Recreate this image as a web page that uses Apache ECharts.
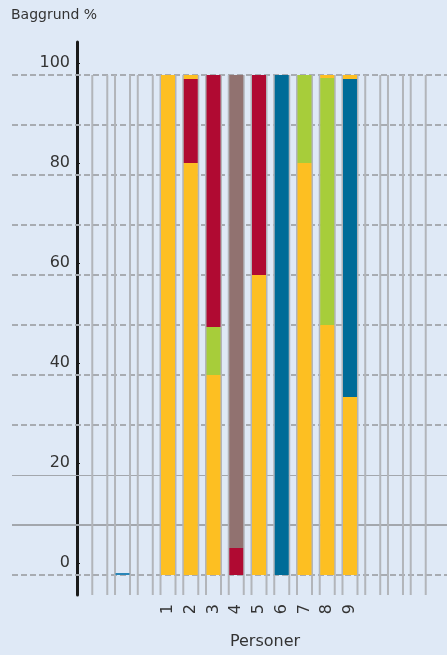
<!DOCTYPE html>
<html>
<head>
<meta charset="utf-8">
<script src="https://cdn.jsdelivr.net/npm/echarts@6/dist/echarts.min.js"></script>
<style>
  html, body { margin: 0; padding: 0; background: #dfe9f6; }
  #chart { width: 447px; height: 655px; }
</style>
</head>
<body>
<div id="chart"></div>
<script>
// 15 pladser på x-aksen: 3 tomme, personer 1..9, 3 tomme
const categories = ['', '', '', '1', '2', '3', '4', '5', '6', '7', '8', '9', '', '', ''];
const firstPerson = 3;

// hver søjle stables nedefra og op
const layerBottom = [100, 82.4, 40, 5.4, 60, 100, 82.4, 50, 35.6];
const layerMiddle = [0, 16.8, 9.6, 94.6, 40, 0, 17.6, 49.4, 63.6];
const layerTop = [0, 0.8, 50.4, 0, 0, 0, 0, 0.6, 0.8];
const colorBottom = ['gul', 'gul', 'gul', 'rod', 'gul', 'blaa', 'gul', 'gul', 'gul'];
const colorMiddle = ['gul', 'rod', 'gron', 'brun', 'rod', 'blaa', 'gron', 'gron', 'blaa'];
const colorTop = ['gul', 'gul', 'rod', 'brun', 'rod', 'blaa', 'gron', 'gul', 'gul'];

// den lille blå streg i en tom plads
const straySlot = 1;
const strayValue = 0.4;

const yTicks = [0, 20, 40, 60, 80, 100];
const gridValues = [0, 10, 20, 30, 40, 50, 60, 70, 80, 90, 100];

const palette = {
    gul: '#fdbf22',
    rod: '#b00a32',
    gron: '#a7cd3a',
    brun: '#917270',
    blaa: '#006c98',
    streg: '#2a86b8'
};

const font = 'DejaVu Sans';

function layerData(values, colors, withStray) {
    return categories.map((c, idx) => {
        const i = idx - firstPerson;
        if (i >= 0 && i < values.length) {
            return { value: values[i], itemStyle: { color: palette[colors[i]] } };
        }
        if (withStray && idx === straySlot) {
            return { value: strayValue, itemStyle: { color: palette.streg } };
        }
        return 0;
    });
}

function gridLineStyle(v) {
    if (v === 20) return { type: 'solid', width: 1, color: '#a3a7ad' };
    if (v === 10) return { type: 'solid', width: 2, color: '#a3a7ad' };
    return { type: [6, 3], width: 2, color: '#a8acb2' };
}

const chart = echarts.init(document.getElementById('chart'));

const option = {
    backgroundColor: '#dfe9f6',
    animation: false,
    grid: [
        { left: 12, right: 0, top: 42, bottom: 60 },     // kun til stiplede linjer
        { left: 88.4, right: 17.4, top: 42, bottom: 60 } // søjlerne
    ],
    graphic: [
        {
            type: 'text', left: 11, top: 8,
            style: { text: 'Baggrund %', fontSize: 14, fontFamily: font, fill: '#333' }
        },
        {
            type: 'text', x: 265, y: 642,
            style: { text: 'Personer', fontSize: 16, fontFamily: font, fill: '#333', align: 'center', verticalAlign: 'middle' }
        }
    ],
    xAxis: [
        { type: 'value', gridIndex: 0, min: 0, max: 1, show: false },
        {
            type: 'category',
            gridIndex: 1,
            data: categories,
            axisLine: { show: false },
            axisTick: { show: false },
            splitLine: { show: false },
            axisLabel: {
                interval: 0,
                rotate: 90,
                margin: 9,
                fontSize: 16,
                fontFamily: font,
                color: '#333'
            }
        }
    ],
    yAxis: [
        { type: 'value', gridIndex: 0, min: -4, max: 106.6, show: false },
        { type: 'value', gridIndex: 1, min: -4, max: 106.6, show: false },
        {
            type: 'value',
            gridIndex: 1,
            min: -6.4,
            max: 104.2,
            position: 'left',
            offset: 11.4,
            axisLine: { show: true, lineStyle: { color: '#1a1a1a', width: 3 } },
            axisTick: { show: true, inside: true, length: 3, customValues: yTicks, lineStyle: { color: '#1a1a1a', width: 1 } },
            splitLine: { show: false },
            axisLabel: {
                customValues: yTicks,
                margin: 7,
                fontSize: 16,
                fontFamily: font,
                color: '#333'
            }
        }
    ],
    series: [
        {
            type: 'line',
            xAxisIndex: 0,
            yAxisIndex: 0,
            data: [],
            silent: true,
            z: 1,
            markLine: {
                silent: true,
                z: 1,
                symbol: 'none',
                label: { show: false },
                data: gridValues.map(v => ({ yAxis: v, lineStyle: gridLineStyle(v) }))
            }
        },
        {
            type: 'custom',
            xAxisIndex: 1,
            yAxisIndex: 1,
            silent: true,
            z: 2,
            data: categories.map((c, idx) => [idx]),
            renderItem: function (params, api) {
                const top = api.coord([api.value(0), 100]);
                const bot = api.coord([api.value(0), -4]);
                const style = { stroke: '#b2b5ba', lineWidth: 2 };
                return {
                    type: 'group',
                    children: [
                        { type: 'line', shape: { x1: top[0] - 7.5, y1: top[1], x2: top[0] - 7.5, y2: bot[1] }, style: style },
                        { type: 'line', shape: { x1: top[0] + 7.5, y1: top[1], x2: top[0] + 7.5, y2: bot[1] }, style: style }
                    ]
                };
            }
        },
        {
            type: 'bar', xAxisIndex: 1, yAxisIndex: 1, stack: 'p', barWidth: 14, z: 3,
            data: layerData(layerBottom, colorBottom, true)
        },
        {
            type: 'bar', xAxisIndex: 1, yAxisIndex: 1, stack: 'p', barWidth: 14, z: 3,
            data: layerData(layerMiddle, colorMiddle, false)
        },
        {
            type: 'bar', xAxisIndex: 1, yAxisIndex: 1, stack: 'p', barWidth: 14, z: 3,
            data: layerData(layerTop, colorTop, false)
        }
    ]
};

chart.setOption(option);
</script>
</body>
</html>
